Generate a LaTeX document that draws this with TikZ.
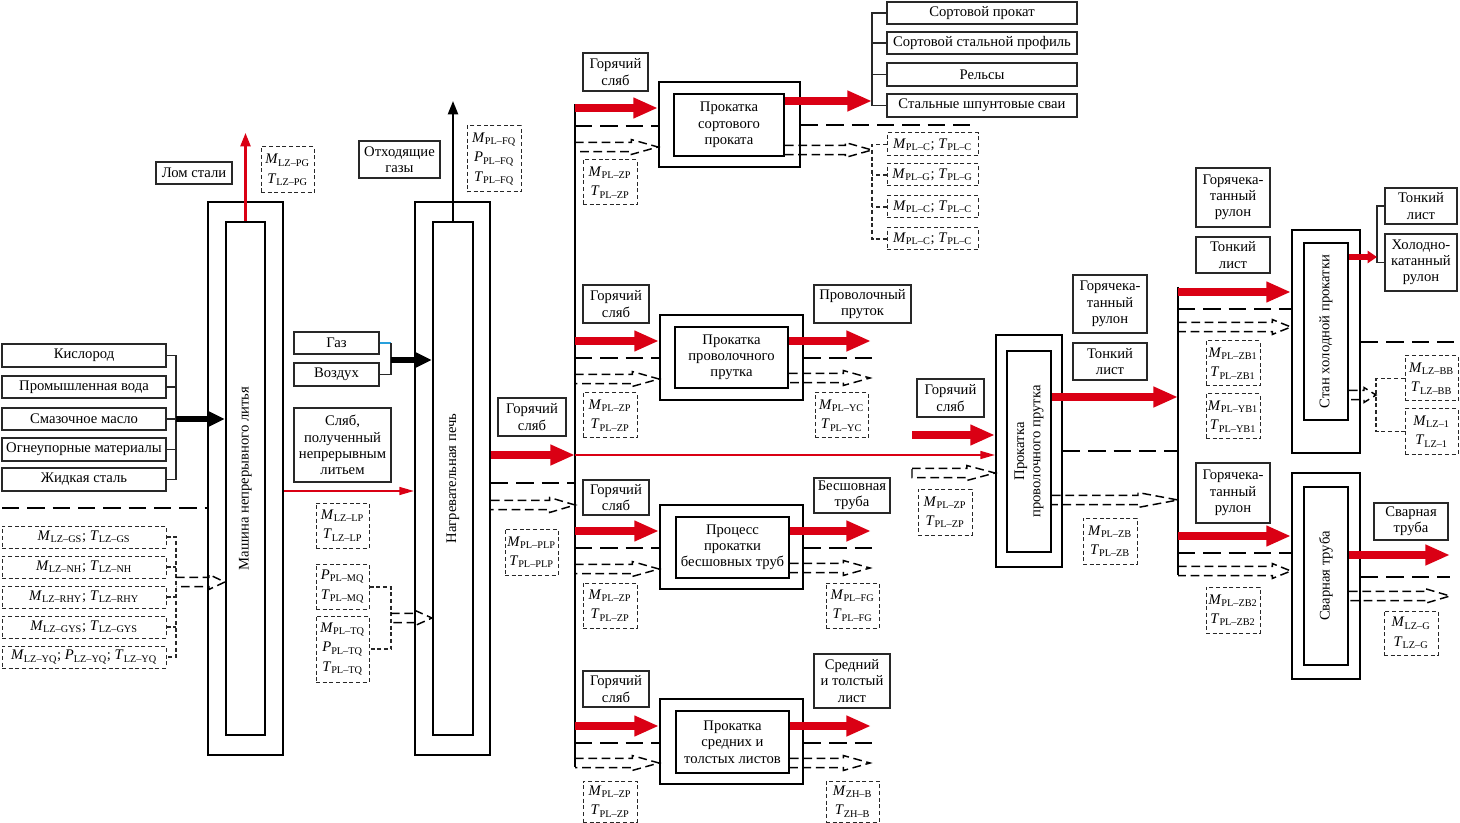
\documentclass[tikz,border=0pt]{standalone}
\usepackage{fontspec}
\setmainfont{Liberation Serif}
\usetikzlibrary{arrows.meta,calc}
\definecolor{redc}{RGB}{218,0,20}
\definecolor{bord}{RGB}{40,40,40}
\newcommand\mv[2]{\textit{#1}\textsubscript{#2}}
\newcommand\bx[7][box]{\node[#1,minimum width={(#5-#3)*0.75pt},minimum height={(#6-#4)*0.75pt}] (#2) at ({(#3+#5)/2},{(#4+#6)/2}) {#7};}
\newcommand\hol[3]{\draw[hol] let \p1=#1, \p2=#2 in ({\x1},{\y1+3.4pt}) -- ({\x2-#3pt},{\y1+3.4pt}) -- ({\x2-#3pt},{\y1+5.6pt}) -- ({\x2},{\y1}) -- ({\x2-#3pt},{\y1-5.6pt}) -- ({\x2-#3pt},{\y1-3.4pt}) -- ({\x1},{\y1-3.4pt});}
\newcommand\holc[3]{\draw[hol] let \p1=#1, \p2=#2 in ({\x1},{\y1+3.4pt}) -- ({\x2-#3pt},{\y1+3.4pt}) -- ({\x2-#3pt},{\y1+5.6pt}) -- ({\x2},{\y1}) -- ({\x2-#3pt},{\y1-5.6pt}) -- ({\x2-#3pt},{\y1-3.4pt}) -- ({\x1},{\y1-3.4pt}) -- cycle;}
\tikzset{
 box/.style={draw=bord,line width=0.8pt,inner sep=0pt,align=center,font=\fontsize{11}{12.2}\selectfont},
 dbox/.style={draw=bord,line width=0.75pt,dash pattern=on 3pt off 2pt,inner sep=0pt,align=center,font=\fontsize{11}{14.5}\selectfont},
 mach/.style={draw=black,line width=1.6pt,inner sep=0pt},
 ibox/.style={mach,align=center,font=\fontsize{11}{12.2}\selectfont},
 rot/.style={rotate=90,align=center,inner sep=0pt,font=\fontsize{11}{12.2}\selectfont},
 rarrow/.style={draw=redc,line width=6.6pt,-{Triangle[length=18.5pt,width=14.5pt]}},
 rsmall/.style={draw=redc,line width=5pt,-{Triangle[length=7pt,width=9pt]}},
 tarrow/.style={draw=redc,line width=1.2pt,-{Triangle[length=11pt,width=6pt]}},
 barrow/.style={draw=black,line width=4.5pt,-{Triangle[length=12pt,width=10.5pt]}},
 uarrow/.style={line width=1.7pt,-{Triangle[length=10pt,width=7.5pt]}},
 eline/.style={line width=1.4pt,dash pattern=on 13pt off 6pt},
 hol/.style={line width=1.1pt,dash pattern=on 6.5pt off 3.5pt,line join=miter},
 brk/.style={draw=bord,line width=0.8pt},
 dbrk/.style={draw=bord,line width=0.8pt,dash pattern=on 3pt off 2pt},
 bar/.style={line width=1.6pt}
}
\begin{document}
\begin{tikzpicture}[x=0.75pt,y=-0.75pt]
\useasboundingbox (0,0) rectangle (1460,823);
\fill[white] (0,0) rectangle (1460,823);

% ---------- left inputs
\bx{kis}{2}{344}{166}{367}{Кислород}
\bx{vod}{2}{376}{166}{398}{Промышленная вода}
\bx{mas}{2}{408}{166}{430}{Смазочное масло}
\bx{ogn}{2}{438}{166}{461}{Огнеупорные материалы}
\bx{zhs}{2}{468}{166}{491}{Жидкая сталь}
\bx[dbox]{g1}{2}{526}{166}{548}{\mv{M}{LZ–GS}; \mv{T}{LZ–GS}}
\bx[dbox]{g2}{2}{556}{166}{578}{\mv{M}{LZ–NH}; \mv{T}{LZ–NH}}
\bx[dbox]{g3}{2}{586}{166}{608}{\mv{M}{LZ–RHY}; \mv{T}{LZ–RHY}}
\bx[dbox]{g4}{2}{616}{166}{638}{\mv{M}{LZ–GYS}; \mv{T}{LZ–GYS}}
\bx[dbox]{g5}{2}{646}{166}{668}{\mv{M}{LZ–YQ}; \mv{P}{LZ–YQ}; \mv{T}{LZ–YQ}}

% ---------- machine 1
\bx[mach]{m1o}{208}{202}{283}{755}{}
\bx[mach]{m1i}{226}{222}{265}{735}{}
\node[rot] (m1t) at (m1i.center) {Машина непрерывного литья};
\bx{lom}{156}{162}{232}{184}{Лом стали}
\bx[dbox]{pg}{261}{147}{314}{193}{\mv{M}{LZ–PG}\\\mv{T}{LZ–PG}}

\coordinate (kb) at (176,419);
\draw[brk] (kis.east) -- (kis.east -| kb) -- (zhs.east -| kb) -- (zhs.east);
\foreach \n in {vod,mas,ogn} \draw[brk] (\n.east) -- (\n.east -| kb);
\draw[barrow] (kb) -- (kb -| m1i.west);
\coordinate (e0) at (2,508);
\draw[eline] (e0) -- (e0 -| m1o.west);
\coordinate (gb) at (176,582);
\draw[dbrk] (g1.east) -- (g1.east -| gb) -- (g5.east -| gb) -- (g5.east);
\foreach \n in {g2,g3,g4} \draw[dbrk] (\n.east) -- (\n.east -| gb);
\hol{(gb)}{(gb -| m1i.west)}{12}
\coordinate (lt) at (245.5,133);
\draw[uarrow,draw=redc] (m1i.north) -- (lt);

% ---------- furnace
\bx[mach]{fo}{415}{202}{490}{755}{}
\bx[mach]{fi}{433}{222}{473}{735}{}
\node[rot] (ft) at (fi.center) {Нагревательная печь};
\bx{otg}{359}{141}{440}{178}{Отходящие\\газы}
\bx[dbox]{fq}{467}{126}{521}{192}{\mv{M}{PL–FQ}\\\mv{P}{PL–FQ}\\\mv{T}{PL–FQ}}
\coordinate (ft2) at (453,101);
\draw[uarrow] (fi.north) -- (ft2);
\bx{gaz}{294}{332}{379}{354}{Газ}
\bx{voz}{294}{363}{379}{386}{Воздух}
\coordinate (gb2) at (391,360);
\draw[line width=0.8pt,draw={rgb,255:red,40;green,160;blue,220}] (gaz.east) -- (gaz.east -| gb2);
\draw[brk] (gaz.east -| gb2) -- (voz.east -| gb2) -- (voz.east);
\draw[barrow,line width=4pt] (gb2) -- (gb2 -| fi.west);
\bx{slb}{294}{408}{391}{482}{Сляб,\\полученный\\непрерывным\\литьем}
\draw[tarrow] (m1o.east |- 0,491) -- (fo.west |- 0,491);
\bx[dbox]{lp}{316}{503}{369}{548}{\mv{M}{LZ–LP}\\\mv{T}{LZ–LP}}
\bx[dbox]{mq}{316}{564}{369}{609}{\mv{P}{PL–MQ}\\\mv{T}{PL–MQ}}
\bx[dbox]{tq}{316}{616}{369}{682}{\mv{M}{PL–TQ}\\\mv{P}{PL–TQ}\\\mv{T}{PL–TQ}}
\coordinate (tb) at (391,618);
\draw[dbrk] (mq.east |- 0,587) -- (tb |- 0,587) -- (tb |- 0,649) -- (tq.east |- 0,649);
\hol{(tb)}{(tb -| fi.west)}{12.5}

% furnace outputs
\coordinate (barT) at (575,104);
\coordinate (barB) at (575,767);
\draw[bar] (barT) -- (barB);
\bx{hs0}{498}{398}{566}{436}{Горячий\\сляб}
\draw[rarrow] (fo.east |- 0,455) -- (barT |- 0,455);
\draw[eline] (fo.east |- 0,483) -- (barT |- 0,483);
\hol{(fo.east |- 0,505)}{(barT |- 0,505)}{19}
\bx[dbox]{plp}{505}{529}{558}{575}{\mv{M}{PL–PLP}\\\mv{T}{PL–PLP}}

% ---------- branch 1
\bx{hs1}{583}{53}{648}{91}{Горячий\\сляб}
\bx[mach]{b1o}{659}{82}{800}{167}{}
\bx[ibox]{b1i}{674}{94}{784}{156}{Прокатка\\сортового\\проката}
\bx[dbox]{z1}{583}{160}{637}{205}{\mv{M}{PL–ZP}\\\mv{T}{PL–ZP}}
\draw[rarrow] (barT |- 0,108) -- (b1o.west |- 0,108);
\draw[eline] (barT |- 0,126) -- (b1o.west |- 0,126);
\hol{(barT |- 0,147)}{(b1o.west |- 0,147)}{20}
\bx{o1}{887}{2}{1077}{24}{Сортовой прокат}
\bx{o2}{887}{32}{1077}{54}{Сортовой стальной профиль}
\bx{o3}{887}{63}{1077}{86}{Рельсы}
\bx{o4}{887}{94}{1077}{117}{Стальные шпунтовые сваи}
\coordinate (ob1) at (872,101);
\draw[brk] (o1.west) -- (o1.west -| ob1) -- (o4.west -| ob1) -- (o4.west);
\foreach \n in {o2,o3} \draw[brk] (\n.west) -- (\n.west -| ob1);
\draw[rarrow] (b1i.east |- ob1) -- (ob1);
\coordinate (b1e) at (976,125);
\draw[eline] (b1o.east |- b1e) -- (b1e);
\bx[dbox]{c1}{887}{133}{978}{156}{\mv{M}{PL–C}; \mv{T}{PL–C}}
\bx[dbox]{c2}{887}{164}{978}{186}{\mv{M}{PL–G}; \mv{T}{PL–G}}
\bx[dbox]{c3}{887}{196}{978}{218}{\mv{M}{PL–C}; \mv{T}{PL–C}}
\bx[dbox]{c4}{887}{228}{978}{250}{\mv{M}{PL–C}; \mv{T}{PL–C}}
\coordinate (cb1) at (872,150);
\draw[dbrk] (c1.west) -- (c1.west -| cb1) -- (c4.west -| cb1) -- (c4.west);
\foreach \n in {c2,c3} \draw[dbrk] (\n.west) -- (\n.west -| cb1);
\hol{(b1i.east |- cb1)}{(cb1)}{20}

% ---------- branch 2
\bx{hs2}{583}{285}{649}{323}{Горячий\\сляб}
\bx[mach]{b2o}{660}{315}{803}{400}{}
\bx[ibox]{b2i}{675}{327}{788}{388}{Прокатка\\проволочного\\прутка}
\bx[dbox]{z2}{583}{393}{637}{438}{\mv{M}{PL–ZP}\\\mv{T}{PL–ZP}}
\bx{pp}{814}{285}{911}{323}{Проволочный\\пруток}
\bx[dbox]{yc}{815}{393}{868}{438}{\mv{M}{PL–YC}\\\mv{T}{PL–YC}}
\draw[rarrow] (barT |- 0,341) -- (b2o.west |- 0,341);
\draw[eline] (barT |- 0,358) -- (b2o.west |- 0,358);
\hol{(barT |- 0,379)}{(b2o.west |- 0,379)}{20}
\coordinate (r2) at (871,341);
\coordinate (e2) at (872,358);
\coordinate (h2) at (870,378);
\draw[rarrow] (b2i.east |- r2) -- (r2);
\draw[eline] (b2o.east |- e2) -- (e2);
\hol{(b2i.east |- h2)}{(h2)}{20}

% ---------- branch 3
\bx{hs3}{583}{480}{649}{515}{Горячий\\сляб}
\bx[mach]{b3o}{660}{505}{803}{589}{}
\bx[ibox]{b3i}{676}{517}{789}{578}{Процесс\\прокатки\\бесшовных труб}
\bx[dbox]{z3}{583}{583}{637}{628}{\mv{M}{PL–ZP}\\\mv{T}{PL–ZP}}
\bx{bt}{814}{478}{890}{513}{Бесшовная\\труба}
\bx[dbox]{fg}{826}{583}{879}{628}{\mv{M}{PL–FG}\\\mv{T}{PL–FG}}
\draw[rarrow] (barT |- 0,531) -- (b3o.west |- 0,531);
\draw[eline] (barT |- 0,548) -- (b3o.west |- 0,548);
\hol{(barT |- 0,569)}{(b3o.west |- 0,569)}{20}
\coordinate (r3) at (871,531);
\coordinate (e3) at (872,548);
\coordinate (h3) at (870,568);
\draw[rarrow] (b3i.east |- r3) -- (r3);
\draw[eline] (b3o.east |- e3) -- (e3);
\hol{(b3i.east |- h3)}{(h3)}{20}

% ---------- branch 4
\bx{hs4}{583}{671}{649}{707}{Горячий\\сляб}
\bx[mach]{b4o}{660}{699}{803}{784}{}
\bx[ibox]{b4i}{676}{711}{789}{773}{Прокатка\\средних и\\толстых листов}
\bx[dbox]{z4}{583}{781}{637}{822}{\mv{M}{PL–ZP}\\\mv{T}{PL–ZP}}
\bx{tl}{814}{654}{890}{708}{Средний\\и толстый\\лист}
\bx[dbox]{zh}{826}{781}{879}{822}{\mv{M}{ZH–B}\\\mv{T}{ZH–B}}
\draw[rarrow] (barT |- 0,726) -- (b4o.west |- 0,726);
\draw[eline] (barT |- 0,743) -- (b4o.west |- 0,743);
\hol{(barT |- 0,763)}{(b4o.west |- 0,763)}{20}
\coordinate (r4) at (871,726);
\coordinate (e4) at (872,743);
\coordinate (h4) at (870,763);
\draw[rarrow] (b4i.east |- r4) -- (r4);
\draw[eline] (b4o.east |- e4) -- (e4);
\hol{(b4i.east |- h4)}{(h4)}{20}

% ---------- second wire rod mill
\bx[mach]{w2o}{996}{335}{1062}{567}{}
\bx[mach]{w2i}{1007}{351}{1051}{552}{}
\node[rot] (w2t) at (w2i.center) {Прокатка\\проволочного прутка};
\bx{hs5}{917}{379}{984}{417}{Горячий\\сляб}
\bx[dbox]{z5}{918}{489}{972}{535}{\mv{M}{PL–ZP}\\\mv{T}{PL–ZP}}
\coordinate (w2s) at (912,435);
\draw[rarrow] (w2s) -- (w2s -| w2o.west);
\draw[tarrow] (barT |- 0,455) -- (w2o.west |- 0,455);
\coordinate (w2h) at (912,473);
\holc{(w2h)}{(w2h -| w2o.west)}{21}
\bx{gk1}{1073}{275}{1147}{333}{Горячека-\\танный\\рулон}
\bx{tn1}{1073}{343}{1147}{380}{Тонкий\\лист}
\bx[dbox]{zb}{1083}{518}{1137}{564}{\mv{M}{PL–ZB}\\\mv{T}{PL–ZB}}
\coordinate (bar2T) at (1178,287);
\coordinate (bar2B) at (1178,575);
\draw[bar] (bar2T) -- (bar2B);
\draw[rarrow] (w2i.east |- 0,397) -- (bar2T |- 0,397);
\draw[eline] (w2o.east |- 0,451) -- (bar2T |- 0,451);
\hol{(w2i.east |- 0,500)}{(bar2T |- 0,500)}{30}

% ---------- cold rolling mill
\bx{gk2}{1196}{168}{1270}{227}{Горячека-\\танный\\рулон}
\bx{tn2}{1196}{237}{1270}{273}{Тонкий\\лист}
\bx[mach]{cmo}{1292}{230}{1360}{453}{}
\bx[mach]{cmi}{1304}{243}{1348}{420}{}
\node[rot] (cmt) at (cmi.center) {Стан холодной прокатки};
\bx[dbox]{zb1}{1206}{341}{1260}{386}{\mv{M}{PL–ZB1}\\\mv{T}{PL–ZB1}}
\bx[dbox]{yb1}{1206}{394}{1260}{439}{\mv{M}{PL–YB1}\\\mv{T}{PL–YB1}}
\draw[rarrow] (bar2T |- 0,292) -- (cmo.west |- 0,292);
\draw[eline] (bar2T |- 0,309) -- (cmo.west |- 0,309);
\hol{(bar2T |- 0,327)}{(cmo.west |- 0,327)}{14}
\bx{tl2}{1385}{188}{1457}{224}{Тонкий\\лист}
\bx{hk}{1385}{234}{1457}{291}{Холодно-\\катанный\\рулон}
\coordinate (cb) at (1377,257);
\draw[brk] (tl2.west) -- (tl2.west -| cb) -- (hk.west -| cb) -- (hk.west);
\draw[rsmall] (cmi.east |- cb) -- (cb);
\coordinate (ce) at (1458,342);
\draw[eline] (cmo.east |- ce) -- (ce);
\bx[dbox]{bb}{1405}{356}{1458}{401}{\mv{M}{LZ–BB}\\\mv{T}{LZ–BB}}
\bx[dbox]{lz1}{1405}{409}{1458}{454}{\mv{M}{LZ–1}\\\mv{T}{LZ–1}}
\coordinate (db) at (1376,395);
\draw[dbrk] (bb.west) -- (bb.west -| db) -- (lz1.west -| db) -- (lz1.west);
\hol{(cmi.east |- db)}{(db)}{9}

% ---------- welded pipe
\bx{gk3}{1196}{463}{1270}{523}{Горячека-\\танный\\рулон}
\bx[mach]{wpo}{1292}{473}{1360}{679}{}
\bx[mach]{wpi}{1304}{487}{1348}{665}{}
\node[rot] (wpt) at (wpi.center) {Сварная труба};
\bx[dbox]{zb2}{1206}{587}{1260}{633}{\mv{M}{PL–ZB2}\\\mv{T}{PL–ZB2}}
\draw[rarrow] (bar2T |- 0,536) -- (wpo.west |- 0,536);
\draw[eline] (bar2T |- 0,553) -- (wpo.west |- 0,553);
\hol{(bar2T |- 0,571)}{(wpo.west |- 0,571)}{14}
\bx{sv}{1374}{503}{1448}{540}{Сварная\\труба}
\bx[dbox]{lzg}{1384}{611}{1438}{655}{\mv{M}{LZ–G}\\\mv{T}{LZ–G}}
\coordinate (wr) at (1450,555);
\coordinate (we) at (1450,577);
\coordinate (wh) at (1450,596);
\draw[rarrow] (wpi.east |- wr) -- (wr);
\draw[eline] (wpo.east |- we) -- (we);
\hol{(wpi.east |- wh)}{(wh)}{19}
\end{tikzpicture}
\end{document}
